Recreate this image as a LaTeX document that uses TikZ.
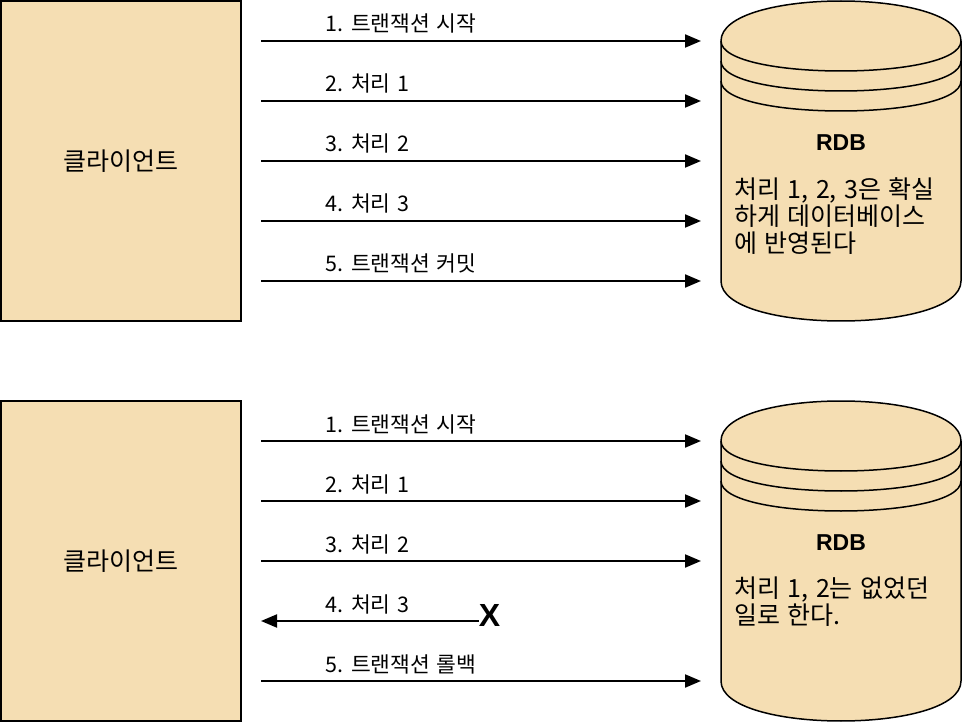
\documentclass[tikz,border=0pt]{standalone}
\usepackage{fontspec}
\setmainfont{Noto Sans CJK KR}
\newfontfamily\latinfont{Liberation Sans}
\newcommand{\krspace}{\spaceskip=0.3em\relax}
\usetikzlibrary{arrows.meta}
\definecolor{dbfill}{HTML}{F5DEB3}

\begin{document}
\begin{tikzpicture}[x=1pt, y=-1pt,
    box/.style={draw, line width=1.5pt, fill=dbfill},
    msg/.style={line width=2pt, -{Triangle[length=16pt, width=13pt]}},
    lbl/.style={anchor=base west, inner sep=0pt, font=\fontsize{21.5}{24}\selectfont\krspace},
    big/.style={inner sep=0pt, font=\fontsize{25}{27}\selectfont\krspace},
    title/.style={inner sep=0pt, font=\latinfont\bfseries\fontsize{23}{27}\selectfont}]
    \useasboundingbox (0,0) rectangle (962,722);

    % First panel: commit
    \begin{scope}
        \node[box, big, minimum width=240, minimum height=320] (client1) at (121,161) {클라이언트};

        \filldraw[box] (721,41) .. controls (721,-12.33) and (961,-12.33) .. (961,41)
            -- (961,281) .. controls (961,334.33) and (721,334.33) .. (721,281) -- cycle;
        \draw[line width=1.5pt] (721,41) .. controls (721,81) and (961,81) .. (961,41);
        \draw[line width=1.5pt] (721,61) .. controls (721,101) and (961,101) .. (961,61);
        \draw[line width=1.5pt] (721,81) .. controls (721,121) and (961,121) .. (961,81);
        \node[title] (rdb1) at (841,143) {RDB};
        \node[big, anchor=north west, align=left] (note1) at (734,177)
            {처리 1, 2, 3은 확실\\하게 데이터베이스\\에 반영된다};

        % Messages to the database
        \foreach \y/\t [count=\i] in {41/{1. 트랜잭션 시작}, 101/{2. 처리 1},
                161/{3. 처리 2}, 221/{4. 처리 3}, 281/{5. 트랜잭션 커밋}} {
            \coordinate (a\i) at (261,\y);
            \coordinate (b\i) at (701,\y);
            \draw[msg] (a\i) -- (b\i);
            \node[lbl] (la\i) at (325,\y-9) {\t};
        }
    \end{scope}

    % Second panel: rollback
    \begin{scope}[shift={(0,400)}]
        \node[box, big, minimum width=240, minimum height=320] (client2) at (121,161) {클라이언트};

        \filldraw[box] (721,41) .. controls (721,-12.33) and (961,-12.33) .. (961,41)
            -- (961,281) .. controls (961,334.33) and (721,334.33) .. (721,281) -- cycle;
        \draw[line width=1.5pt] (721,41) .. controls (721,81) and (961,81) .. (961,41);
        \draw[line width=1.5pt] (721,61) .. controls (721,101) and (961,101) .. (961,61);
        \draw[line width=1.5pt] (721,81) .. controls (721,121) and (961,121) .. (961,81);
        \node[title] (rdb2) at (841,143) {RDB};
        \node[big, anchor=north west, align=left] (note2) at (734,177)
            {처리 1, 2는 없었던\\일로 한다.};

        % Messages, the fourth one fails
        \foreach \y/\t [count=\i] in {41/{1. 트랜잭션 시작}, 101/{2. 처리 1},
                161/{3. 처리 2}, 281/{5. 트랜잭션 롤백}} {
            \coordinate (c\i) at (261,\y);
            \coordinate (d\i) at (701,\y);
            \draw[msg] (c\i) -- (d\i);
            \node[lbl] (lc\i) at (325,\y-9) {\t};
        }
        \coordinate (fail) at (261,221);
        \node[inner sep=0pt, font=\latinfont\bfseries\fontsize{32}{32}\selectfont] (cross) at (489.5,215.5) {X};
        \draw[msg] (cross.west |- fail) -- (fail);
        \node[lbl] (lfail) at (325,212) {4. 처리 3};
    \end{scope}
\end{tikzpicture}
\end{document}
